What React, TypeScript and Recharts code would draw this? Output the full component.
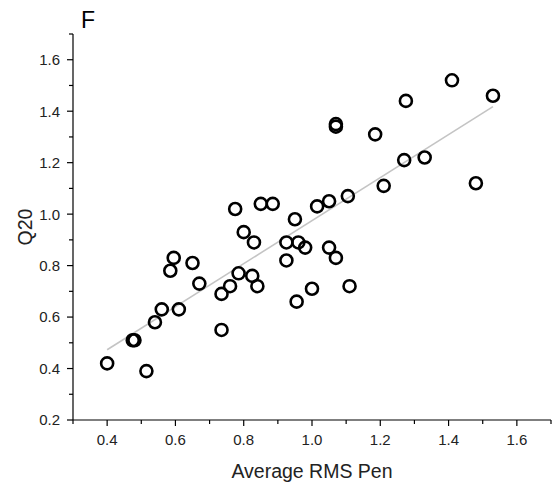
import {
  ReferenceLine,
  Scatter,
  ScatterChart,
  XAxis,
  YAxis,
} from "recharts";

// values
const rmsPen = [
  0.4, 0.515, 0.475, 0.48, 0.54, 0.56, 0.61, 0.585, 0.595, 0.65, 0.67, 0.735,
  0.735, 0.76, 0.785, 0.775, 0.85, 0.885, 0.8, 0.83, 0.825, 0.84, 0.95, 0.925,
  0.96, 0.98, 0.925, 0.955, 1.0, 1.015, 1.05, 1.05, 1.07, 1.105, 1.11, 1.07,
  1.07, 1.185, 1.275, 1.41, 1.27, 1.33, 1.21, 1.48, 1.53,
];
const q20 = [
  0.42, 0.39, 0.51, 0.51, 0.58, 0.63, 0.63, 0.78, 0.83, 0.81, 0.73, 0.55, 0.69,
  0.72, 0.77, 1.02, 1.04, 1.04, 0.93, 0.89, 0.76, 0.72, 0.98, 0.89, 0.89, 0.87,
  0.82, 0.66, 0.71, 1.03, 1.05, 0.87, 0.83, 1.07, 0.72, 1.35, 1.34, 1.31, 1.44,
  1.52, 1.21, 1.22, 1.11, 1.12, 1.46,
];

// fitted line end points
const fitX = [0.4, 1.53];
const fitY = [0.473, 1.418];

const xTicks = [0.3, 0.4, 0.5, 0.6, 0.7, 0.8, 0.9, 1.0, 1.1, 1.2, 1.3, 1.4, 1.5, 1.6, 1.7];
const xMajor = [0.4, 0.6, 0.8, 1.0, 1.2, 1.4, 1.6];
const yTicks = [0.2, 0.3, 0.4, 0.5, 0.6, 0.7, 0.8, 0.9, 1.0, 1.1, 1.2, 1.3, 1.4, 1.5, 1.6, 1.7];
const yMajor = [0.2, 0.4, 0.6, 0.8, 1.0, 1.2, 1.4, 1.6];

const FONT = '"Liberation Sans", Arial, sans-serif';

const points = rmsPen.map((x, i) => ({ x, y: q20[i] }));

const isMajor = (v: number, list: number[]) => list.some((m) => Math.abs(m - v) < 1e-6);

const XTick = (props: any) => {
  const { x, y, payload } = props;
  const major = isMajor(payload.value, xMajor);
  return (
    <g>
      <line x1={x} x2={x} y1={y} y2={y + (major ? 6 : 4)} stroke="#000" strokeWidth={1.2} />
      {major && (
        <text x={x} y={y + 25} textAnchor="middle" fontSize={15} fontFamily={FONT} fill="#222">
          {payload.value.toFixed(1)}
        </text>
      )}
    </g>
  );
};

const YTick = (props: any) => {
  const { x, y, payload } = props;
  const major = isMajor(payload.value, yMajor);
  return (
    <g>
      <line x1={x - (major ? 6 : 4)} x2={x} y1={y} y2={y} stroke="#000" strokeWidth={1.2} />
      {major && (
        <text x={x - 13} y={y} dy="0.36em" textAnchor="end" fontSize={15} fontFamily={FONT} fill="#222">
          {payload.value.toFixed(1)}
        </text>
      )}
    </g>
  );
};

const Ring = (props: any) => (
  <circle cx={props.cx} cy={props.cy} r={6} fill="none" stroke="#000" strokeWidth={2.6} />
);

export default function App() {
  return (
    <div style={{ width: 553, height: 483, background: "#fff" }}>
      <style>{"body{margin:0}"}</style>
      <ScatterChart
        width={553}
        height={483}
        margin={{ top: 34, right: 2, left: 0, bottom: 0 }}
      >
        <XAxis
          type="number"
          dataKey="x"
          domain={[0.3, 1.7]}
          ticks={xTicks}
          interval={0}
          height={63}
          tickSize={0}
          tickMargin={0}
          tickLine={false}
          tick={<XTick />}
          axisLine={{ stroke: "#000", strokeWidth: 1.2 }}
          label={{
            content: (p: any) => (
              <text
                x={p.viewBox.x + p.viewBox.width / 2}
                y={p.viewBox.y + 58}
                textAnchor="middle"
                fontSize={19.5}
                fontFamily={FONT}
                fill="#222"
              >
                Average RMS Pen
              </text>
            ),
          }}
        />
        <YAxis
          type="number"
          dataKey="y"
          domain={[0.2, 1.7]}
          ticks={yTicks}
          interval={0}
          width={73}
          tickSize={0}
          tickMargin={0}
          tickLine={false}
          tick={<YTick />}
          axisLine={{ stroke: "#000", strokeWidth: 1.2 }}
          label={{
            content: (p: any) => {
              const cy = p.viewBox.y + p.viewBox.height / 2;
              return (
                <text
                  x={32}
                  y={cy}
                  transform={`rotate(-90, 32, ${cy})`}
                  textAnchor="middle"
                  fontSize={19.5}
                  fontFamily={FONT}
                  fill="#222"
                >
                  Q20
                </text>
              );
            },
          }}
        />
        <ReferenceLine
          segment={[
            { x: fitX[0], y: fitY[0] },
            { x: fitX[1], y: fitY[1] },
          ]}
          stroke="#c4c4c4"
          strokeWidth={1.6}
        />
        <Scatter data={points} shape={<Ring />} isAnimationActive={false} />
        <text x={81} y={28} fontSize={23} fontFamily={FONT} fill="#000">
          F
        </text>
      </ScatterChart>
    </div>
  );
}
